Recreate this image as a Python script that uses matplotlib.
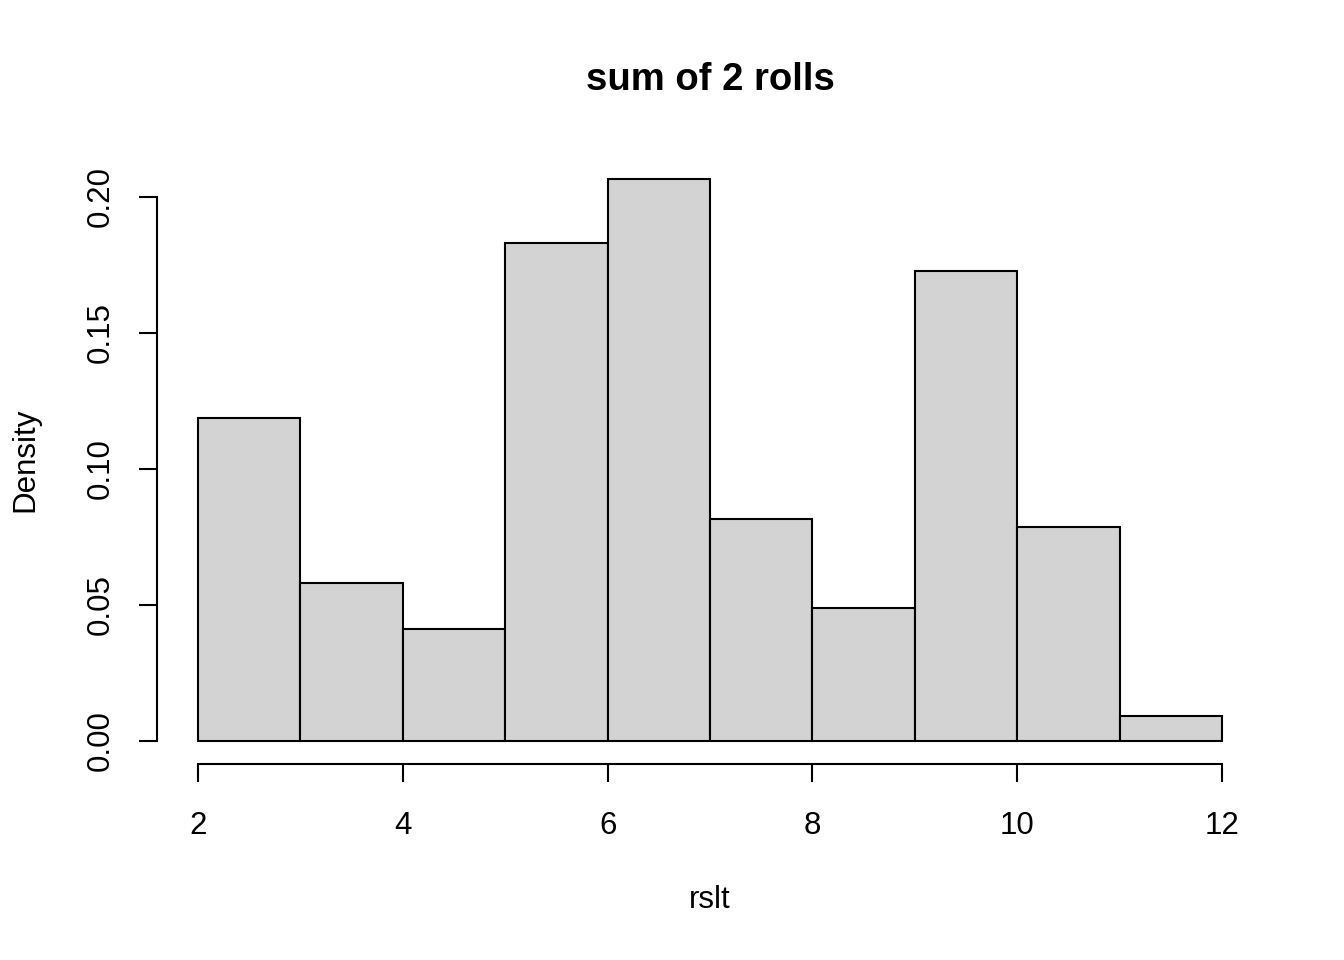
import matplotlib
matplotlib.use("Agg")
import matplotlib.pyplot as plt

bin_edges = [2, 3, 4, 5, 6, 7, 8, 9, 10, 11, 12]
densities = [0.1188, 0.0581, 0.0412, 0.1831, 0.2066, 0.0816, 0.0489, 0.1728, 0.0787, 0.0092]
x_ticks = [2, 4, 6, 8, 10, 12]
y_ticks = [0.00, 0.05, 0.10, 0.15, 0.20]
y_tick_labels = ["0.00", "0.05", "0.10", "0.15", "0.20"]

plt.rcParams['font.family'] = ['Liberation Sans', 'DejaVu Sans']

fig = plt.figure(figsize=(13.44, 9.6), dpi=100)
ax = fig.add_axes([157/1344, 1 - 763.5/960, (1263-157)/1344, (763.5-156.5)/960])

lefts = bin_edges[:-1]
widths = [b - a for a, b in zip(bin_edges[:-1], bin_edges[1:])]
ax.bar(lefts, densities, width=widths, align='edge', color='#D3D3D3',
       edgecolor='black', linewidth=1.5)

ax.set_xlim(1.6, 12.4)
ymax = max(densities)
ax.set_ylim(-0.04*ymax, ymax*1.04)

for s in ['top', 'right']:
    ax.spines[s].set_visible(False)
ax.spines['left'].set_bounds(0, 0.20)
ax.spines['bottom'].set_bounds(2, 12)
for s in ['left', 'bottom']:
    ax.spines[s].set_linewidth(1.5)

ax.set_xticks(x_ticks)
ax.set_xticklabels([str(t) for t in x_ticks])
ax.set_yticks(y_ticks)
ax.set_yticklabels(y_tick_labels, rotation=90, va='center')
ax.tick_params(axis='both', direction='out', length=13, width=1.5, labelsize=22.5)
ax.tick_params(axis='x', pad=21)
ax.tick_params(axis='y', pad=17)

fig.text(710/1344, 1 - 900/960, "rslt", ha='center', va='center', fontsize=22.5)
fig.text(25/1344, 1 - 460/960, "Density", ha='center', va='center', fontsize=22.5, rotation=90)
fig.text(710/1344, 1 - 80/960, "sum of 2 rolls", ha='center', va='center', fontsize=27.5, fontweight='bold')

fig.savefig("out.png", dpi=100)
